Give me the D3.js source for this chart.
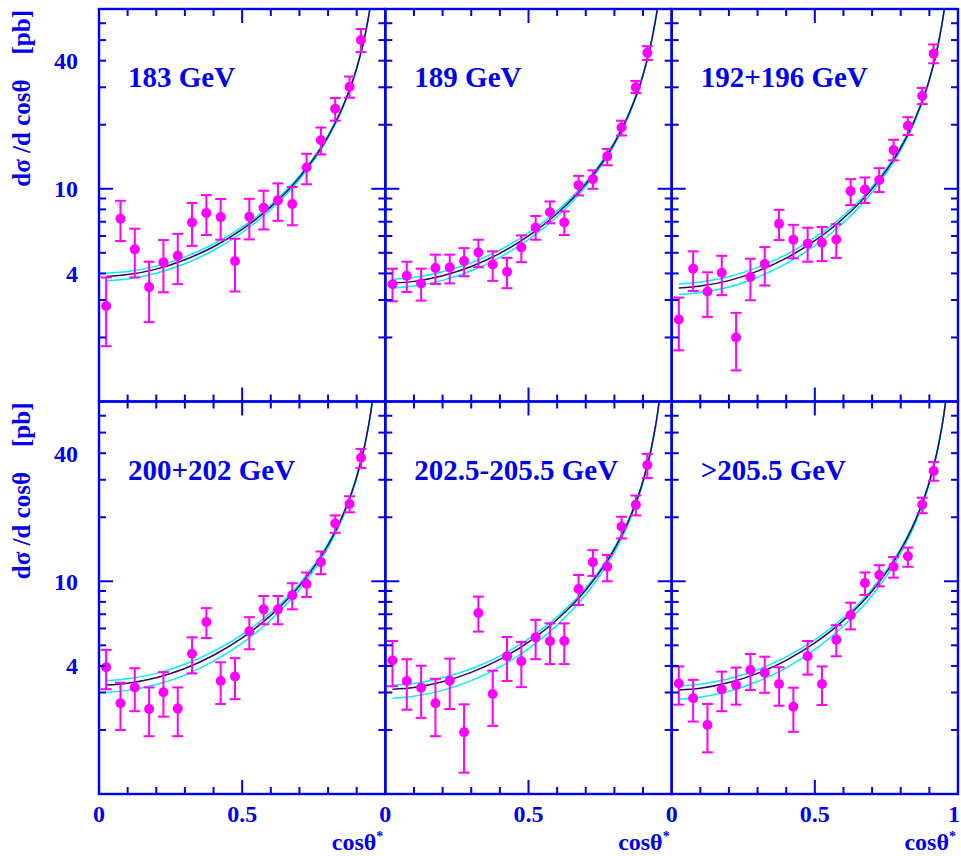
<!DOCTYPE html>
<html><head>
<meta charset="utf-8">
<title>dsigma/dcos theta</title>
<script src="https://d3js.org/d3.v7.min.js"></script>
<style>
  body { margin: 0; background: white; }
  text { font-family: "Liberation Serif", "Times New Roman", serif; font-weight: bold; fill: #0000f0; }
</style>
</head>
<body>
<svg id="chart" width="961" height="856"></svg>
<script>

// energy bins, one panel each
const panelLabels = ["183 GeV", "189 GeV", "192+196 GeV", "200+202 GeV", "202.5-205.5 GeV", ">205.5 GeV"];

// bin centres in cos(theta*)
const binCentres = [0.025, 0.075, 0.125, 0.175, 0.225, 0.275, 0.325, 0.375, 0.425, 0.475,
                    0.525, 0.575, 0.625, 0.675, 0.725, 0.775, 0.825, 0.875, 0.915];

// measured d sigma / d cos theta [pb]
const measured = [
  [2.81, 7.23, 5.19, 3.45, 4.51, 4.84, 6.95, 7.69, 7.36, 4.57, 7.39, 8.15, 8.82, 8.47, 12.6, 16.9, 23.8, 30.2, 50.0],
  [3.56, 3.90, 3.59, 4.24, 4.27, 4.58, 5.02, 4.41, 4.07, 5.30, 6.58, 7.76, 6.95, 10.4, 11.1, 14.2, 19.4, 30.0, 43.6],
  [2.43, 4.21, 3.29, 4.03, 2.00, 3.85, 4.43, 6.84, 5.76, 5.51, 5.57, 5.78, 9.75, 9.93, 11.0, 15.2, 19.8, 27.3, 43.2],
  [3.94, 2.67, 3.17, 2.51, 3.01, 2.52, 4.56, 6.44, 3.40, 3.57, 5.82, 7.38, 7.38, 8.59, 9.71, 12.3, 18.7, 23.1, 38.1],
  [4.24, 3.40, 3.16, 2.67, 3.41, 1.95, 7.10, 2.95, 4.44, 4.21, 5.45, 5.23, 5.24, 9.20, 12.3, 11.7, 18.1, 22.9, 35.2],
  [3.31, 2.82, 2.11, 3.10, 3.25, 3.83, 3.72, 3.29, 2.57, 4.44, 3.29, 5.31, 6.93, 9.82, 10.7, 11.7, 13.1, 22.9, 33.0]
];
// upper end of the error bars
const errUpper = [
  [3.83, 8.78, 6.49, 4.54, 5.74, 6.14, 8.57, 9.34, 8.95, 5.82, 8.97, 9.79, 10.6, 10.2, 14.6, 19.4, 26.7, 33.7, 56.4],
  [4.21, 4.54, 4.21, 4.90, 4.90, 5.26, 5.76, 5.08, 4.73, 6.04, 7.45, 8.72, 7.83, 11.5, 12.2, 15.4, 20.9, 32.1, 46.8],
  [3.08, 5.08, 4.05, 4.84, 2.61, 4.69, 5.32, 7.96, 6.77, 6.56, 6.61, 6.82, 11.1, 11.3, 12.5, 17.0, 21.7, 29.8, 47.7],
  [4.76, 3.33, 3.90, 3.17, 3.74, 3.17, 5.45, 7.48, 4.16, 4.35, 6.78, 8.53, 8.53, 9.79, 11.0, 13.8, 20.4, 25.1, 41.9],
  [5.24, 4.30, 4.01, 3.48, 4.33, 2.64, 8.47, 3.80, 5.47, 5.18, 6.59, 6.34, 6.34, 10.7, 14.0, 13.3, 20.1, 25.3, 39.7],
  [3.98, 3.44, 2.65, 3.76, 3.93, 4.55, 4.42, 3.94, 3.16, 5.24, 3.98, 6.22, 7.93, 11.0, 11.9, 13.0, 14.4, 24.7, 36.4]
];
// lower end of the error bars
const errLower = [
  [1.82, 5.68, 3.83, 2.36, 3.26, 3.56, 5.39, 6.06, 5.76, 3.29, 5.78, 6.44, 7.07, 6.74, 10.5, 14.5, 20.9, 26.8, 43.9],
  [2.96, 3.27, 2.98, 3.57, 3.59, 3.88, 4.28, 3.69, 3.41, 4.52, 5.76, 6.88, 6.06, 9.31, 10.0, 12.9, 17.8, 28.2, 40.3],
  [1.74, 3.31, 2.50, 3.16, 1.40, 2.99, 3.51, 5.74, 4.71, 4.54, 4.57, 4.73, 8.38, 8.57, 9.65, 13.6, 17.9, 25.0, 38.9],
  [3.11, 2.00, 2.45, 1.87, 2.31, 1.87, 3.69, 5.41, 2.65, 2.79, 4.79, 6.28, 6.28, 7.38, 8.44, 10.8, 16.9, 21.1, 34.1],
  [3.21, 2.49, 2.28, 1.87, 2.51, 1.26, 5.80, 2.09, 3.40, 3.18, 4.30, 4.08, 4.08, 7.74, 10.6, 10.0, 15.9, 20.4, 30.6],
  [2.63, 2.19, 1.57, 2.45, 2.63, 3.08, 2.99, 2.60, 1.96, 3.64, 2.62, 4.44, 5.94, 8.62, 9.47, 10.4, 11.7, 20.9, 29.7]
];

// curves at these cos(theta*) values
const curveCos = [0.025, 0.1, 0.2, 0.3, 0.4, 0.5, 0.6, 0.7, 0.8, 0.85, 0.9, 0.93, 0.95, 0.96];
const curveCentral = [
  [3.87, 3.95, 4.19, 4.64, 5.34, 6.45, 8.22, 11.31, 17.63, 24.02, 36.87, 53.42, 75.51, 94.85],
  [3.60, 3.67, 3.90, 4.31, 4.97, 6.00, 7.65, 10.52, 16.40, 22.35, 34.29, 49.69, 70.25, 88.24],
  [3.42, 3.49, 3.70, 4.10, 4.72, 5.70, 7.27, 9.99, 15.58, 21.23, 32.58, 47.21, 66.73, 83.82],
  [3.25, 3.32, 3.52, 3.89, 4.49, 5.42, 6.91, 9.50, 14.81, 20.17, 30.96, 44.86, 63.42, 79.66],
  [3.11, 3.17, 3.37, 3.73, 4.29, 5.18, 6.61, 9.09, 14.17, 19.30, 29.63, 42.93, 60.69, 76.23],
  [3.08, 3.14, 3.34, 3.69, 4.25, 5.13, 6.55, 9.00, 14.03, 19.12, 29.34, 42.52, 60.10, 75.50]
];
const curveUpper = [
  [4.01, 4.08, 4.33, 4.78, 5.50, 6.61, 8.40, 11.51, 17.85, 24.25, 37.11, 53.67, 75.76, 95.10],
  [3.76, 3.83, 4.07, 4.49, 5.16, 6.20, 7.87, 10.76, 16.67, 22.63, 34.59, 49.99, 70.56, 88.55],
  [3.57, 3.65, 3.86, 4.27, 4.90, 5.89, 7.48, 10.22, 15.83, 21.50, 32.86, 47.50, 67.02, 84.11],
  [3.41, 3.48, 3.69, 4.07, 4.68, 5.62, 7.13, 9.74, 15.08, 20.45, 31.25, 45.17, 63.73, 79.97],
  [3.25, 3.31, 3.52, 3.88, 4.45, 5.36, 6.80, 9.30, 14.40, 19.54, 29.88, 43.19, 60.96, 76.50],
  [3.22, 3.28, 3.48, 3.84, 4.41, 5.30, 6.74, 9.21, 14.26, 19.36, 29.59, 42.78, 60.36, 75.76]
];
const curveLower = [
  [3.70, 3.77, 4.01, 4.44, 5.14, 6.23, 7.99, 11.05, 17.34, 23.72, 36.56, 53.09, 75.18, 94.50],
  [3.42, 3.49, 3.71, 4.12, 4.76, 5.78, 7.41, 10.25, 16.10, 22.04, 33.96, 49.35, 69.91, 87.90],
  [3.18, 3.25, 3.45, 3.84, 4.45, 5.40, 6.94, 9.63, 15.19, 20.82, 32.15, 46.76, 66.28, 83.36],
  [3.01, 3.07, 3.27, 3.62, 4.21, 5.12, 6.58, 9.14, 14.41, 19.75, 30.52, 44.41, 62.96, 79.19],
  [2.82, 2.88, 3.07, 3.41, 3.95, 4.82, 6.22, 8.66, 13.70, 18.80, 29.11, 42.39, 60.14, 75.67],
  [2.79, 2.85, 3.04, 3.38, 3.92, 4.77, 6.16, 8.57, 13.56, 18.63, 28.82, 41.98, 59.55, 74.95]
];

// axis ticks
const yTicks = [2, 3, 4, 5, 6, 7, 8, 9, 10, 20, 30, 40, 50, 60];
const yMajor = [10];
const yLabels = [4, 10, 40];
const xTicks = [0.1, 0.2, 0.3, 0.4, 0.5, 0.6, 0.7, 0.8, 0.9];
const xMajor = [0.5];
const xLabels = [0, 0.5];

const blue = "#0000f0", magenta = "#ff00ff", cyan = "#00f0f0", dark = "#330066";

const svg = d3.select("#chart");
const plotLeft = 99, plotRight = 958, plotTop = 9, plotBottom = 794;
const pw = (plotRight - plotLeft) / 3, ph = (plotBottom - plotTop) / 2;

const y = d3.scaleLog().domain([1, 70]).range([ph, 0]);
const x = d3.scaleLinear().domain([0, 1]).range([0, pw]);

const defs = svg.append("defs");
defs.append("clipPath").attr("id", "clip")
  .append("rect").attr("width", pw).attr("height", ph);

const line = d3.line()
  .x((d, i) => x(curveCos[i]))
  .y(d => y(d))
  .curve(d3.curveMonotoneX);

panelLabels.forEach(function(label, p) {
  let col = p % 3, row = Math.floor(p / 3);
  let g = svg.append("g").attr("transform", `translate(${plotLeft + col * pw},${plotTop + row * ph})`);

  // curves
  let cg = g.append("g").attr("clip-path", "url(#clip)");
  cg.append("path").attr("d", line(curveUpper[p])).attr("fill", "none").attr("stroke", cyan).attr("stroke-width", 1.5);
  cg.append("path").attr("d", line(curveLower[p])).attr("fill", "none").attr("stroke", cyan).attr("stroke-width", 1.5);
  cg.append("path").attr("d", line(curveCentral[p])).attr("fill", "none").attr("stroke", dark).attr("stroke-width", 1.5);

  // data points with error bars
  binCentres.forEach(function(c, i) {
    let cx = x(c);
    g.append("line").attr("x1", cx).attr("x2", cx)
      .attr("y1", y(errUpper[p][i])).attr("y2", y(errLower[p][i]))
      .attr("stroke", magenta).attr("stroke-width", 2);
    [errUpper[p][i], errLower[p][i]].forEach(function(v) {
      g.append("line").attr("x1", cx - 5.5).attr("x2", cx + 5.5)
        .attr("y1", y(v)).attr("y2", y(v))
        .attr("stroke", magenta).attr("stroke-width", 2);
    });
    g.append("circle").attr("cx", cx).attr("cy", y(measured[p][i])).attr("r", 5).attr("fill", magenta);
  });

  // ticks on all four sides, pointing inwards
  yTicks.forEach(function(v) {
    let len = yMajor.includes(v) ? 14 : 7;
    g.append("line").attr("x1", 0).attr("x2", len).attr("y1", y(v)).attr("y2", y(v))
      .attr("stroke", blue).attr("stroke-width", 2);
    g.append("line").attr("x1", pw).attr("x2", pw - len).attr("y1", y(v)).attr("y2", y(v))
      .attr("stroke", blue).attr("stroke-width", 2);
  });
  xTicks.forEach(function(v) {
    let len = xMajor.includes(v) ? 14 : 7;
    g.append("line").attr("x1", x(v)).attr("x2", x(v)).attr("y1", 0).attr("y2", len)
      .attr("stroke", blue).attr("stroke-width", 2);
    g.append("line").attr("x1", x(v)).attr("x2", x(v)).attr("y1", ph).attr("y2", ph - len)
      .attr("stroke", blue).attr("stroke-width", 2);
  });

  g.append("rect").attr("width", pw).attr("height", ph)
    .attr("fill", "none").attr("stroke", blue).attr("stroke-width", 2.4);

  g.append("text").attr("x", 29).attr("y", 78).attr("font-size", 29).text(label);

  if (col === 0) {
    yLabels.forEach(function(v) {
      g.append("text").attr("x", -21).attr("y", y(v)).attr("dy", "0.35em")
        .attr("text-anchor", "end").attr("font-size", 24).text(v);
    });
    svg.append("text")
      .attr("transform", `translate(30,${plotTop + row * ph + 1}) rotate(-90)`)
      .attr("text-anchor", "end").attr("font-size", 25)
      .attr("style", "white-space: pre")
      .text("dσ /d cosθ    [pb]");
  }

  if (row === 1) {
    xLabels.forEach(function(v) {
      g.append("text").attr("x", x(v)).attr("y", ph + 28)
        .attr("text-anchor", "middle").attr("font-size", 24).text(v);
    });
    if (col === 2) {
      g.append("text").attr("x", pw + 2).attr("y", ph + 28)
        .attr("text-anchor", "end").attr("font-size", 24).text(1);
    }
    g.append("text").attr("x", pw - 9).attr("y", ph + 56)
      .attr("text-anchor", "end").attr("font-size", 24).text("cosθ");
    g.append("text").attr("x", pw - 9).attr("y", ph + 47)
      .attr("font-size", 14).text("*");
  }
});

</script>
</body>
</html>
